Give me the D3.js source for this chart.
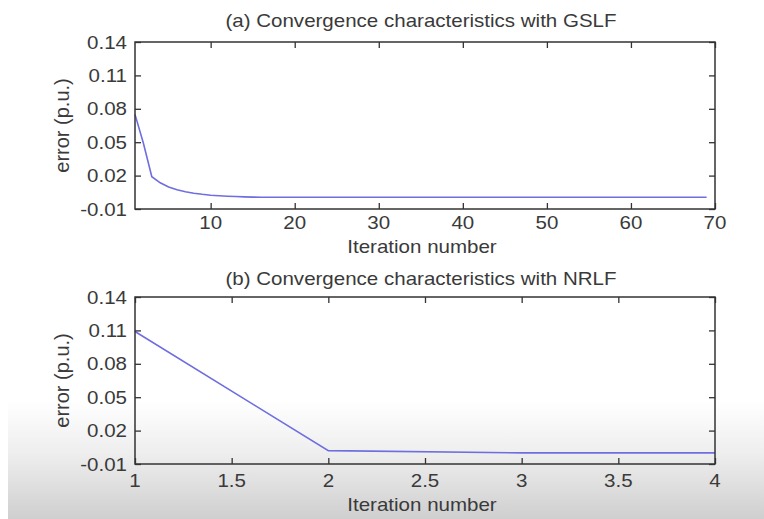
<!DOCTYPE html>
<html>
<head>
<meta charset="utf-8">
<script src="https://cdn.jsdelivr.net/npm/d3@7"></script>
<style>
  body { margin: 0; background: #fff; }
  svg { display: block; font-family: "Liberation Sans", Arial, sans-serif; }
</style>
</head>
<body>
<svg id="chart" width="764" height="519"></svg>
<script>
// Data
const gslfError = [0.075, 0.049, 0.019, 0.0135, 0.0098, 0.0072, 0.0055, 0.0042, 0.0032, 0.0024,
    0.0019, 0.0015, 0.0012, 0.0009, 0.0007, 0.0006, 0.0005, 0.0005, 0.0005, 0.0005,
    0.0005, 0.0005, 0.0005, 0.0005, 0.0005, 0.0005, 0.0005, 0.0005, 0.0005, 0.0005,
    0.0005, 0.0005, 0.0005, 0.0005, 0.0005, 0.0005, 0.0005, 0.0005, 0.0005, 0.0005,
    0.0005, 0.0005, 0.0005, 0.0005, 0.0005, 0.0005, 0.0005, 0.0005, 0.0005, 0.0005,
    0.0005, 0.0005, 0.0005, 0.0005, 0.0005, 0.0005, 0.0005, 0.0005, 0.0005, 0.0005,
    0.0005, 0.0005, 0.0005, 0.0005, 0.0005, 0.0005, 0.0005, 0.0005, 0.0005];
const nrlfError = [0.109, 0.002, 0.0, 0.0];

const yTicks = [-0.01, 0.02, 0.05, 0.08, 0.11, 0.14];
const gslfXTicks = [10, 20, 30, 40, 50, 60, 70];
const nrlfXTicks = [1, 1.5, 2, 2.5, 3, 3.5, 4];

const titles = ["(a) Convergence characteristics with GSLF", "(b) Convergence characteristics with NRLF"];
const xLabel = "Iteration number";
const yLabel = "error (p.u.)";

const svg = d3.select("#chart");
const stretch = 1.14; // picture is a bit wider than tall

// Greyish fade at the bottom of the picture
const grad = svg.append("defs").append("linearGradient")
    .attr("id", "fade").attr("x1", 0).attr("y1", 0).attr("x2", 0).attr("y2", 1);
grad.append("stop").attr("offset", 0).attr("stop-color", "#ffffff");
grad.append("stop").attr("offset", 0.45).attr("stop-color", "#eeeeee");
grad.append("stop").attr("offset", 1).attr("stop-color", "#cfcfcf");
svg.append("rect")
    .attr("x", 8).attr("y", 400).attr("width", 756).attr("height", 119)
    .attr("fill", "url(#fade)");

const panels = [
    { data: gslfError, xDomain: [1, 70], xTicks: gslfXTicks, top: 42, fmt: d3.format("d"),
      title: titles[0], titleY: 27, tickY: 229, xLabelY: 253 },
    { data: nrlfError, xDomain: [1, 4], xTicks: nrlfXTicks, top: 297, fmt: d => String(d),
      title: titles[1], titleY: 285, tickY: 487, xLabelY: 511 }
];

const left = 135, right = 715, h = 167;
const textColor = "#3a3a3a";

panels.forEach(function(p) {
    const x = d3.scaleLinear().domain(p.xDomain).range([left, right]);
    const y = d3.scaleLinear().domain([-0.01, 0.14]).range([p.top + h, p.top]);

    const g = svg.append("g");

    // Line
    const line = d3.line()
        .x((d, i) => x(i + 1))
        .y(d => y(d));
    g.append("path")
        .datum(p.data)
        .attr("fill", "none")
        .attr("stroke", "#6e6ee0")
        .attr("stroke-width", 1.6)
        .attr("d", line);

    // Inward ticks on all four sides
    const axes = [
        { gen: d3.axisBottom(x).tickValues(p.xTicks), tr: [0, p.top + h] },
        { gen: d3.axisTop(x).tickValues(p.xTicks).tickFormat(""), tr: [0, p.top] },
        { gen: d3.axisLeft(y).tickValues(yTicks), tr: [left, 0] },
        { gen: d3.axisRight(y).tickValues(yTicks).tickFormat(""), tr: [right, 0] }
    ];
    axes.forEach(function(a) {
        const ag = g.append("g")
            .attr("transform", "translate(" + a.tr[0] + "," + a.tr[1] + ")")
            .call(a.gen.tickSize(-6).tickSizeOuter(0));
        ag.select(".domain").remove();
        ag.selectAll(".tick line").attr("stroke", "#333").attr("stroke-width", 1.3);
    });

    // Box
    g.append("rect")
        .attr("x", left).attr("y", p.top).attr("width", right - left).attr("height", h)
        .attr("fill", "none").attr("stroke", "#333").attr("stroke-width", 1.5);

    // Tick labels drawn as own text so they can be stretched like the picture
    g.selectAll(".tick text").remove();
    g.selectAll(".xlab").data(p.xTicks).enter().append("text")
        .attr("transform", d => "translate(" + x(d) + "," + p.tickY + ") scale(" + stretch + ",1)")
        .attr("text-anchor", "middle")
        .attr("font-size", 18).attr("fill", textColor)
        .text(p.fmt);
    g.selectAll(".ylab").data(yTicks).enter().append("text")
        .attr("transform", d => "translate(" + (left - 8) + "," + (y(d) + 6.5) + ") scale(" + stretch + ",1)")
        .attr("text-anchor", "end")
        .attr("font-size", 18).attr("fill", textColor)
        .text(d => d3.format(".2f")(d).replace("\u2212", "-"));

    // Title
    g.append("text")
        .attr("transform", "translate(" + ((left + right) / 2 - 4) + "," + p.titleY + ") scale(" + stretch + ",1)")
        .attr("text-anchor", "middle")
        .attr("font-size", 18).attr("fill", textColor)
        .text(p.title);

    // Axis labels
    g.append("text")
        .attr("transform", "translate(" + ((left + right) / 2 - 3) + "," + p.xLabelY + ") scale(" + stretch + ",1)")
        .attr("text-anchor", "middle")
        .attr("font-size", 18).attr("fill", textColor)
        .text(xLabel);
    g.append("text")
        .attr("transform", "translate(69," + (p.top + h / 2) + ") rotate(-90)")
        .attr("text-anchor", "middle")
        .attr("font-size", 20).attr("fill", textColor)
        .text(yLabel);
});
</script>
</body>
</html>
